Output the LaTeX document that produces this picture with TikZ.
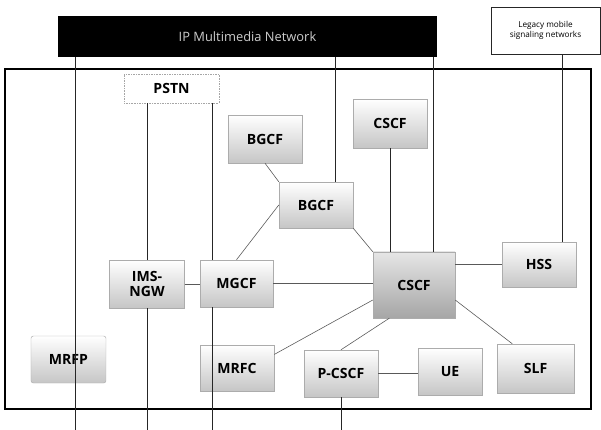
\documentclass[tikz,border=0pt]{standalone}
\usepackage{fontspec}
\setmainfont{Open Sans}
\usetikzlibrary{calc}

\begin{document}
\begin{tikzpicture}[x=0.03cm, y=-0.03cm,
  func/.style={draw=gray!65, rectangle, minimum width=2.22cm, minimum height=1.41cm, align=center, inner sep=0pt, top color=white, bottom color=gray!45, font=\bfseries\fontsize{12}{13}\selectfont},
  core/.style={func, top color=gray!20, bottom color=gray!70},
  plain/.style={draw=gray!70, densely dotted, rectangle, fill=white, inner sep=0pt, font=\bfseries\fontsize{12}{13}\selectfont},
  net/.style={rectangle, inner sep=0pt, align=center},
  link/.style={draw=black!65, line width=0.5pt},
  trunk/.style={draw=black!85, line width=0.7pt}
]
\useasboundingbox (0,0) rectangle (601,430);

% Outside networks
\node[net, fill=black, text=gray!40, minimum width=11.37cm, minimum height=1.23cm, font=\fontsize{11}{12}\selectfont] (ip) at (247.5,36.5) {IP Multimedia Network};
\node[net, draw=black!85, line width=0.6pt, fill=white, minimum width=3.27cm, minimum height=1.41cm, font=\fontsize{7}{8.5}\selectfont] (legacy) at (545.5,30.5) {Legacy mobile\\signaling networks};

% IMS frame
\node[draw, line width=1pt, minimum width=17.58cm, minimum height=10.2cm] (ims) at (298,239) {};

% Functions, upper part
\node[plain, minimum width=2.85cm, minimum height=0.87cm] (pstn) at (171.5,88.5) {PSTN};
\node[func, minimum height=1.44cm] (bgcfa) at (265,139) {BGCF};
\node[func, minimum height=1.47cm] (cscfa) at (390,123.5) {CSCF};
\node[func, minimum height=1.38cm] (bgcfb) at (316,205) {BGCF};

% Functions, middle row
\node[func, minimum width=2.25cm, minimum height=1.44cm] (ngw) at (147,284) {IMS-\\NGW};
\node[func, minimum width=2.19cm] (mgcf) at (236.5,283.5) {MGCF};
\node[core, minimum width=2.46cm, minimum height=1.98cm] (cscf) at (414,285) {CSCF};
\node[func, minimum height=1.35cm] (hss) at (539,264.5) {HSS};

% Functions, lower row
\node[func, rounded corners=2pt, minimum width=2.25cm] (mrfp) at (68.5,359.5) {MRFP};
\node[func, minimum height=1.38cm] (mrfc) at (237,368) {MRFC};
\node[func] (pcscf) at (341,373.5) {P-CSCF};
\node[func, minimum width=1.92cm] (ue) at (450,371.5) {UE};
\node[func, minimum width=2.31cm, minimum height=1.47cm] (slf) at (535.5,368.5) {SLF};

% Free ends below the frame
\coordinate (e1) at (75,430);
\coordinate (e2) at (147,430);
\coordinate (e3) at (212,430);
\coordinate (e4) at (341,430);

% Vertical trunks
\draw[trunk] (ip.south -| e1) -- (e1);
\draw[trunk] (pstn.south -| ngw.north) -- (ngw.north);
\draw[trunk] (ngw.south) -- (e2);
\draw[trunk] (pstn.south -| e3) -- (mgcf.north -| e3);
\draw[trunk] (mgcf.south -| e3) -- (e3);
\draw[trunk] (ip.south -| 335,0) -- (bgcfb.north -| 335,0);
\draw[trunk] (ip.south -| 433,0) -- (cscf.north -| 433,0);
\draw[trunk] (cscfa.south) -- (cscf.north -| cscfa.south);
\draw[trunk] (legacy.south -| 562,0) -- (hss.north -| 562,0);
\draw[trunk] (pcscf.south) -- (e4);

% Links between functions
\draw[link] (bgcfa.south) -- (bgcfb.north west);
\draw[link] (bgcfb.west) -- (mgcf.north);
\draw[link] (bgcfb.south east) -- (cscf.north west);
\draw[link] (ngw.east) -- (ngw.east -| mgcf.west);
\draw[link] (mgcf.east) -- (mgcf.east -| cscf.west);
\draw[link] (hss.west -| cscf.east) -- (hss.west);
\draw[link] (mrfc.20) -- (cscf.200);
\draw[link] ($(cscf.south)!0.6!(cscf.south west)$) -- (pcscf.north);
\draw[link] (cscf.-20) -- ($(slf.north)!0.6!(slf.north west)$);
\draw[link] (pcscf.east) -- (pcscf.east -| ue.west);

\end{tikzpicture}
\end{document}
